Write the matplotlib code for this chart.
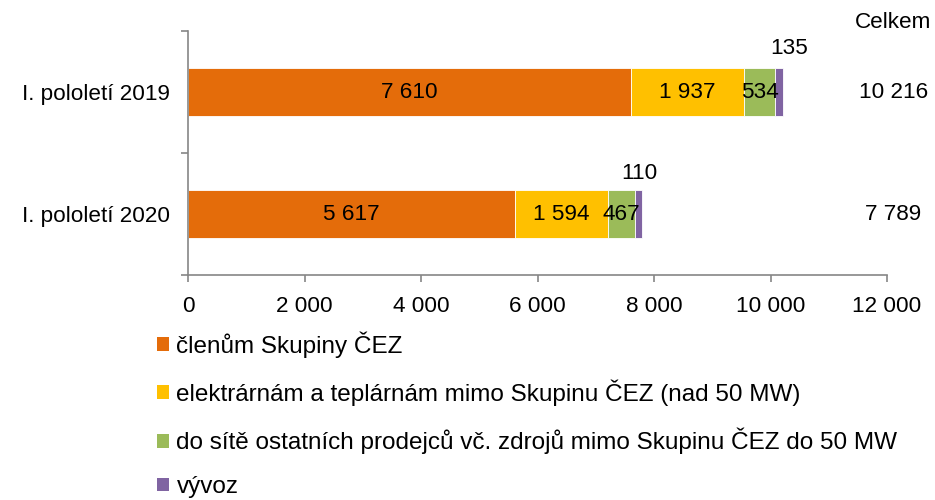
import matplotlib
matplotlib.use("Agg")
import matplotlib.pyplot as plt
from matplotlib.patches import Patch
import numpy as np

plt.rcParams['font.family'] = ['Liberation Sans', 'DejaVu Sans']

categories = ["I. pololetí 2019", "I. pololetí 2020"]
series_names = ["členům Skupiny ČEZ",
                "elektrárnám a teplárnám mimo Skupinu ČEZ (nad 50 MW)",
                "do sítě ostatních prodejců vč. zdrojů mimo Skupinu ČEZ do 50 MW",
                "vývoz"]
clenum = [7610, 5617]
elektrarnam = [1937, 1594]
do_site = [534, 467]
vyvoz = [135, 110]
totals = [10216, 7789]
total_labels = ["10 216", "7 789"]
xticks = [0, 2000, 4000, 6000, 8000, 10000, 12000]
xtick_labels = ["0", "2 000", "4 000", "6 000", "8 000", "10 000", "12 000"]

colors = ["#E46C0A", "#FFC000", "#9BBB59", "#8064A2"]

def fmt(v):
    return f"{v:,}".replace(",", " ")

fig = plt.figure(figsize=(9.35, 5.0), dpi=100)
ax = fig.add_axes([188/935, 1-275/500, (887-188)/935, (275-31)/500])

fs = 16.2
ypos = np.arange(len(categories))
left = np.zeros(len(categories))
series = [clenum, elektrarnam, do_site, vyvoz]
bars = []
for vals, c, name in zip(series, colors, series_names):
    b = ax.barh(ypos, vals, left=left, height=0.4, color=c, edgecolor='white',
                linewidth=0.6, label=name)
    bars.append(b)
    left = left + np.array(vals)

# inside labels for first three series
for si in range(3):
    for i, rect in enumerate(bars[si]):
        cx = rect.get_x() + rect.get_width()/2
        cy = rect.get_y() + rect.get_height()/2
        ax.text(cx, cy, fmt(series[si][i]), ha='center', va='center', fontsize=fs, color='black')

# export labels above bar
offsets = [(7, 14), (1, 11.5)]
for i, rect in enumerate(bars[3]):
    cx = rect.get_x() + rect.get_width()/2
    top = rect.get_y()
    ax.annotate(fmt(vyvoz[i]), (cx, top), xytext=offsets[i], textcoords='offset points',
                ha='center', va='center', fontsize=fs)

# totals
for i, t in enumerate(total_labels):
    ax.text(12110, ypos[i], t, ha='center', va='center', fontsize=fs, clip_on=False)
ax.annotate("Celkem", (12060, -0.5), xytext=(2, 6), textcoords='offset points',
            ha='center', va='center', fontsize=fs, annotation_clip=False)

ax.set_xlim(0, 12000)
ax.set_ylim(1.5, -0.5)
ax.set_xticks(xticks)
ax.set_xticklabels(xtick_labels, fontsize=fs)
ax.set_yticks(ypos)
ax.set_yticklabels(categories, fontsize=fs)
ax.set_yticks([-0.5, 0.5, 1.5], minor=True)

for s in ['top', 'right']:
    ax.spines[s].set_visible(False)
for s in ['left', 'bottom']:
    ax.spines[s].set_color('#868686')
    ax.spines[s].set_linewidth(1.2)
ax.tick_params(axis='y', which='major', length=0, pad=13)
ax.tick_params(axis='y', which='minor', length=5, color='#868686', width=1.2)
ax.tick_params(axis='x', which='major', length=5, color='#868686', width=1.2, pad=10)

handles = [Patch(facecolor=c, edgecolor='none') for c in colors]
fig.legend(handles, series_names, loc='upper left', bbox_to_anchor=(157/935, 1-331/500),
           frameon=False, fontsize=17.5, handlelength=0.5, handleheight=0.5,
           handletextpad=0.3, labelspacing=0.9, borderpad=0, borderaxespad=0)

fig.savefig("out.png", dpi=100)
